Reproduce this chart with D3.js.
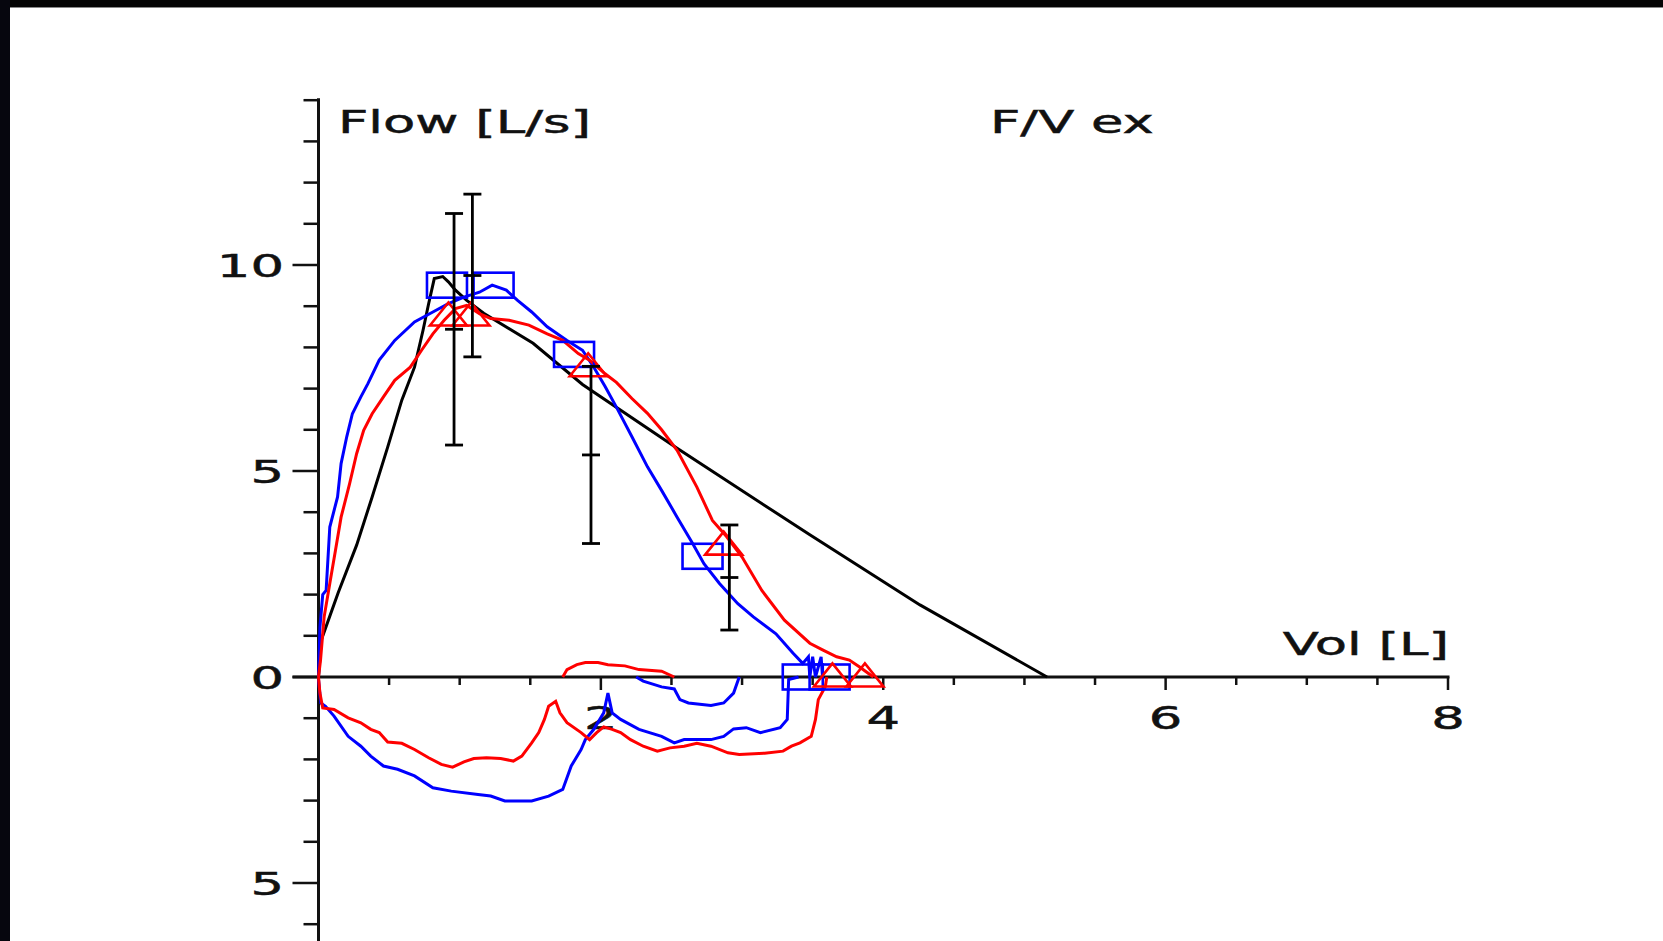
<!DOCTYPE html>
<html>
<head>
<meta charset="utf-8">
<script src="https://cdn.jsdelivr.net/npm/d3@7"></script>
<style>
  html, body { margin: 0; padding: 0; background: #fff; overflow: hidden; }
  svg { display: block; }
  text { font-family: "DejaVu Sans", Verdana, sans-serif; fill: #111; stroke: #111; stroke-width: 0.5; }
</style>
</head>
<body>
<script>
// F/V ex - flow/volume loops, volume [L] against flow [L/s]

// predicted curve
var predV = [0, 0.02, 0.14, 0.27, 0.38, 0.49, 0.59, 0.68, 0.74, 0.78, 0.82, 0.88, 0.92, 0.97, 1.05, 1.17, 1.52, 1.87, 2.54, 3.48, 4.26, 5.16];
var predF = [0, 0.9, 2.05, 3.2, 4.37, 5.58, 6.72, 7.52, 8.41, 9.06, 9.67, 9.72, 9.59, 9.39, 9.14, 8.83, 8.10, 7.10, 5.55, 3.45, 1.75, 0];

// blue trial
var blueExpV = [0, 0.01, 0.03, 0.054, 0.08, 0.135, 0.16, 0.20, 0.24, 0.30, 0.35, 0.43, 0.54, 0.68, 0.81, 0.92, 1.03, 1.14, 1.23, 1.33, 1.41, 1.51, 1.62, 1.76, 1.87, 1.95, 2.03, 2.11, 2.22, 2.33, 2.43, 2.54, 2.65, 2.73, 2.84, 2.97, 3.08, 3.24, 3.36, 3.43, 3.47, 3.48, 3.50, 3.52, 3.56, 3.57];
var blueExpF = [0, 1.2, 2.0, 2.10, 3.64, 4.37, 5.18, 5.83, 6.39, 6.80, 7.12, 7.69, 8.17, 8.62, 8.86, 9.06, 9.22, 9.34, 9.51, 9.39, 9.14, 8.86, 8.50, 8.17, 7.93, 7.52, 7.05, 6.55, 5.83, 5.10, 4.53, 3.88, 3.24, 2.75, 2.27, 1.78, 1.46, 1.05, 0.58, 0.33, 0.49, 0.0, 0.49, 0.0, 0.49, 0.0];
var blueInspV = [0, 0.016, 0.05, 0.11, 0.21, 0.30, 0.37, 0.46, 0.56, 0.68, 0.81, 0.94, 1.13, 1.22, 1.32, 1.51, 1.63, 1.73, 1.79, 1.86, 1.89, 1.95, 2.02, 2.05, 2.08, 2.14, 2.27, 2.43, 2.52, 2.59, 2.78, 2.87, 2.94, 3.03, 3.13, 3.27, 3.32, 3.33, 3.40];
var blueInspF = [-0.06, -0.63, -0.71, -0.95, -1.44, -1.68, -1.92, -2.16, -2.24, -2.40, -2.69, -2.77, -2.85, -2.89, -3.01, -3.01, -2.89, -2.73, -2.16, -1.76, -1.52, -1.27, -0.87, -0.39, -0.87, -1.03, -1.27, -1.44, -1.60, -1.52, -1.52, -1.44, -1.26, -1.23, -1.35, -1.23, -1.03, -0.06, 0];
var blueLoopV = [2.25, 2.30, 2.43, 2.52, 2.56, 2.62, 2.78, 2.87, 2.94, 2.98];
var blueLoopF = [0, -0.10, -0.24, -0.29, -0.55, -0.63, -0.69, -0.63, -0.39, 0];

// red trial
var redExpV = [0, 0.014, 0.04, 0.08, 0.12, 0.16, 0.22, 0.27, 0.32, 0.38, 0.46, 0.54, 0.65, 0.73, 0.81, 0.89, 0.97, 1.05, 1.14, 1.22, 1.35, 1.49, 1.62, 1.73, 1.84, 1.92, 2.03, 2.11, 2.22, 2.33, 2.43, 2.54, 2.68, 2.79, 2.89, 3.00, 3.14, 3.30, 3.48, 3.57, 3.67, 3.76, 3.83, 3.93];
var redExpF = [0, 0.40, 1.46, 2.27, 3.07, 3.88, 4.69, 5.42, 5.99, 6.39, 6.80, 7.20, 7.52, 7.93, 8.33, 8.66, 8.94, 9.02, 8.82, 8.70, 8.66, 8.54, 8.33, 8.17, 7.85, 7.69, 7.36, 7.15, 6.76, 6.40, 6.00, 5.50, 4.61, 3.80, 3.41, 2.91, 2.10, 1.38, 0.82, 0.66, 0.49, 0.41, 0.25, 0.0];
var redInspV = [0, 0.01, 0.03, 0.11, 0.21, 0.30, 0.37, 0.43, 0.49, 0.59, 0.68, 0.78, 0.87, 0.95, 1.03, 1.10, 1.19, 1.29, 1.38, 1.44, 1.51, 1.56, 1.60, 1.63, 1.68, 1.71, 1.76, 1.86, 1.92, 1.97, 2.02, 2.08, 2.14, 2.21, 2.30, 2.40, 2.49, 2.59, 2.68, 2.78, 2.90, 2.98, 3.16, 3.29, 3.35, 3.41, 3.49, 3.52, 3.54, 3.59, 3.60];
var redInspF = [0, -0.39, -0.75, -0.79, -0.99, -1.11, -1.27, -1.35, -1.58, -1.61, -1.76, -1.96, -2.12, -2.19, -2.06, -1.98, -1.96, -1.98, -2.04, -1.92, -1.60, -1.35, -1.03, -0.71, -0.59, -0.87, -1.11, -1.35, -1.52, -1.35, -1.21, -1.27, -1.35, -1.52, -1.68, -1.80, -1.72, -1.68, -1.61, -1.68, -1.84, -1.88, -1.85, -1.80, -1.68, -1.60, -1.44, -1.03, -0.55, -0.23, 0];
var redHumpV = [1.73, 1.76, 1.83, 1.89, 1.98, 2.05, 2.17, 2.27, 2.43, 2.52];
var redHumpF = [0, 0.18, 0.30, 0.35, 0.35, 0.30, 0.27, 0.18, 0.14, 0];

// markers
var blueSqV = [0.91, 1.24, 1.81, 2.72, 3.43, 3.62];
var blueSqF = [9.51, 9.51, 7.83, 2.93, 0, 0];
var redTriV = [0.92, 1.08, 1.91, 2.87, 3.64, 3.87];
var redTriF = [8.81, 8.81, 7.58, 3.25, 0.05, 0.05];

// predicted ranges (error bars)
var errV = [0.96, 1.09, 1.93, 2.91];
var errLo = [5.63, 7.77, 3.24, 1.14];
var errHi = [11.25, 11.72, 7.54, 3.69];

// axes
var xTicksMajor = [2, 4, 6, 8];
var xTickLabels = ["2", "4", "6", "8"];
var yTicksMajor = [10, 5, 0, -5];
var yTickLabels = ["10", "5", "0", "5"];

var W = 1663, H = 941;
var stretch = 1.65;

var svg = d3.select("body").append("svg").attr("width", W).attr("height", H);
svg.append("rect").attr("width", W).attr("height", H).attr("fill", "#fff");

var x = d3.scaleLinear().domain([0, 8]).range([318.5, 1448]);
var y = d3.scaleLinear().domain([0, 10]).range([677, 265]);

function zip(vs, fs) {
  return vs.map(function(v, i) { return [v, fs[i]]; });
}

// text is drawn wide, like the original screen grab
function label(px, py, txt, anchor) {
  svg.append("g")
    .attr("transform", "translate(" + px + "," + py + ") scale(" + stretch + ",1)")
    .append("text")
      .attr("text-anchor", anchor)
      .attr("font-size", 32)
      .text(txt);
}

// y axis
var yAxis = svg.append("g").attr("stroke", "#111").attr("stroke-width", 3);
yAxis.append("line").attr("x1", x(0)).attr("x2", x(0)).attr("y1", y(14) - 2).attr("y2", H);
d3.range(-7, 15).forEach(function(t) {
  var len = (t % 5 === 0) ? 26 : 15;
  yAxis.append("line").attr("x1", x(0) - len).attr("x2", x(0))
    .attr("y1", y(t)).attr("y2", y(t)).attr("stroke-width", 2.5);
});
yTicksMajor.forEach(function(t, i) {
  label(284, y(t) + 11.5, yTickLabels[i], "end");
});

// x axis
var xAxis = svg.append("g").attr("stroke", "#111").attr("stroke-width", 3);
xAxis.append("line").attr("x1", x(0) - 26).attr("x2", x(8) + 1.5).attr("y1", y(0)).attr("y2", y(0));
d3.range(1, 17).forEach(function(k) {
  var t = k / 2;
  var len = (t % 2 === 0) ? 13 : 8;
  xAxis.append("line").attr("x1", x(t)).attr("x2", x(t))
    .attr("y1", y(0)).attr("y2", y(0) + len).attr("stroke-width", 2.5);
});
xTicksMajor.forEach(function(t, i) {
  label(x(t), 729, xTickLabels[i], "middle");
});

label(338, 133, "Flow [L/s]", "start");
label(990, 133, "F/V ex", "start");
label(1449, 655, "Vol [L]", "end");

var line = d3.line()
  .x(function(d) { return x(d[0]); })
  .y(function(d) { return y(d[1]); });

function curve(vs, fs, color) {
  svg.append("path")
    .datum(zip(vs, fs))
    .attr("d", line)
    .attr("fill", "none")
    .attr("stroke", color)
    .attr("stroke-width", 3)
    .attr("stroke-linejoin", "miter");
}

curve(predV, predF, "#000");
curve(blueExpV, blueExpF, "#0000ff");
curve(blueInspV, blueInspF, "#0000ff");
curve(blueLoopV, blueLoopF, "#0000ff");
curve(redExpV, redExpF, "#ff0000");
curve(redInspV, redInspF, "#ff0000");
curve(redHumpV, redHumpF, "#ff0000");

// blue squares
svg.append("g").selectAll("rect")
  .data(zip(blueSqV, blueSqF))
  .enter().append("rect")
    .attr("x", function(d) { return x(d[0]) - 20; })
    .attr("y", function(d) { return y(d[1]) - 12.5; })
    .attr("width", 40)
    .attr("height", 25)
    .attr("fill", "none")
    .attr("stroke", "#0000ff")
    .attr("stroke-width", 2.6);

// red triangles
svg.append("g").selectAll("path")
  .data(zip(redTriV, redTriF))
  .enter().append("path")
    .attr("d", function(d) {
      var cx = x(d[0]), cy = y(d[1]);
      return "M" + (cx - 18.5) + "," + (cy + 11.5) + "L" + cx + "," + (cy - 11.5) +
             "L" + (cx + 18.5) + "," + (cy + 11.5) + "Z";
    })
    .attr("fill", "none")
    .attr("stroke", "#ff0000")
    .attr("stroke-width", 2.6);

// error bars
var bars = svg.append("g").attr("stroke", "#000").attr("stroke-width", 2.8);
errV.forEach(function(v, i) {
  var cx = x(v), mid = (errLo[i] + errHi[i]) / 2;
  bars.append("line").attr("x1", cx).attr("x2", cx).attr("y1", y(errHi[i])).attr("y2", y(errLo[i]));
  [errLo[i], mid, errHi[i]].forEach(function(f) {
    bars.append("line").attr("x1", cx - 9).attr("x2", cx + 9).attr("y1", y(f)).attr("y2", y(f));
  });
});

// dark frame of the screen grab
svg.append("rect").attr("x", 0).attr("y", 0).attr("width", W).attr("height", 7).attr("fill", "#040404");
svg.append("rect").attr("x", 0).attr("y", 7).attr("width", W).attr("height", 1).attr("fill", "#888");
svg.append("rect").attr("x", 0).attr("y", 0).attr("width", 10).attr("height", H).attr("fill", "#06060e");
</script>
</body>
</html>
